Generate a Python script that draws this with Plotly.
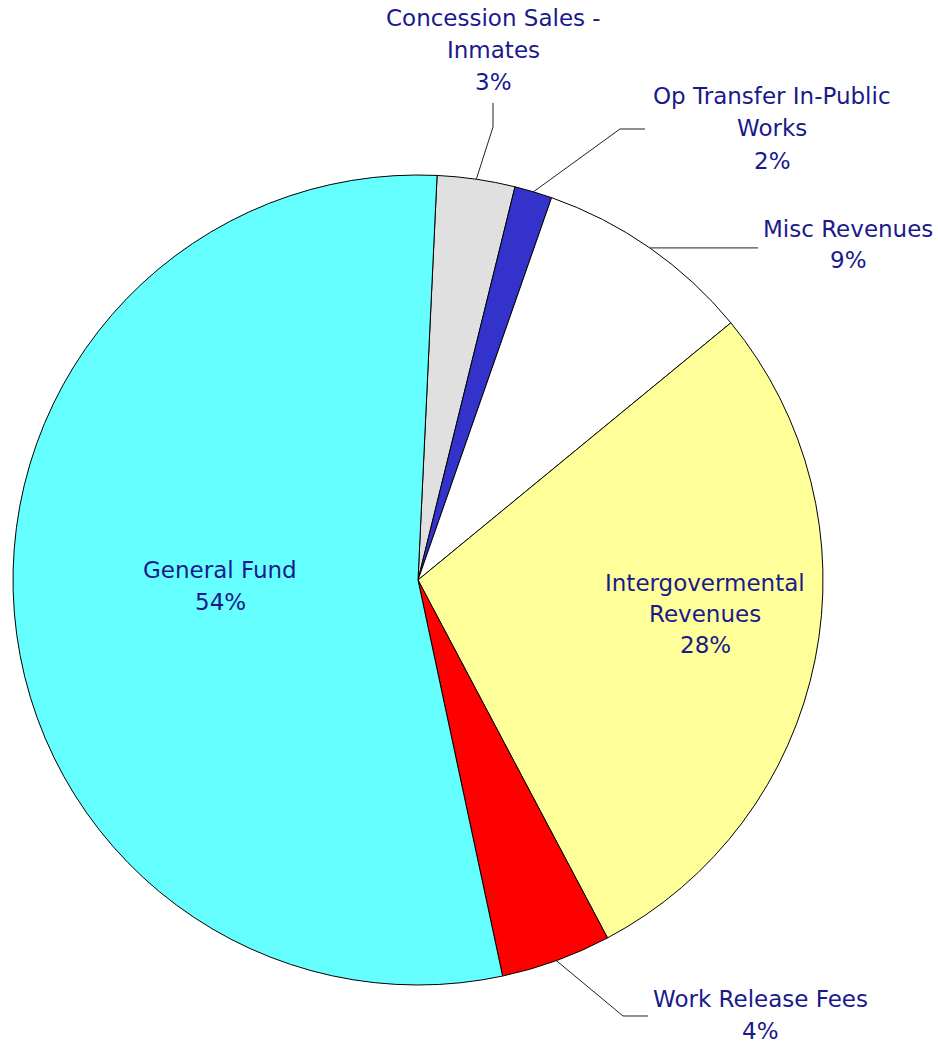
import math
import plotly.graph_objects as go

# ---------------- data ----------------
categories = [
    "Concession Sales - Inmates",
    "Op Transfer In-Public Works",
    "Misc Revenues",
    "Intergovermental Revenues",
    "Work Release Fees",
    "General Fund",
]
label_lines = [
    ["Concession Sales -", "Inmates"],
    ["Op Transfer In-Public", "Works"],
    ["Misc Revenues"],
    ["Intergovermental", "Revenues"],
    ["Work Release Fees"],
    ["General Fund"],
]
values = [3.1, 1.5, 8.7, 28.2, 4.4, 54.1]

# ---------------- styles / layout ----------------
colors = ["#E0E0E0", "#3333CC", "#FFFFFF", "#FFFF99", "#FF0000", "#66FFFF"]
TEXT_COLOR = "#1a1a8c"
FONT = "DejaVu Sans"
FS = 23

W, H = 938, 1044
CX, CY, R = 418, 580, 405
ROT = 2.7

# label block placement (pixels): center x, first-line y, line spacing, leader elbow/end
label_pos = [
    dict(x=494, y=18, dy=32, elbow=(493, 127), end=(493, 103)),
    dict(x=772, y=96.5, dy=32, elbow=(620, 129), end=(645, 129)),
    dict(x=848, y=228.5, dy=32, elbow=None, end=(758, None)),
    dict(x=705, y=583, dy=31, elbow=None, end=None),
    dict(x=760, y=998.5, dy=32, elbow=(623, 1016), end=(648, 1016)),
    dict(x=220, y=569.5, dy=32, elbow=None, end=None),
]


def px(x):
    return x / W


def py(y):
    return 1 - y / H


fig = go.Figure(
    go.Pie(
        labels=categories,
        values=values,
        sort=False,
        direction="clockwise",
        rotation=ROT,
        marker=dict(colors=colors, line=dict(color="#000000", width=1)),
        textinfo="none",
        hoverinfo="label+percent",
        domain=dict(x=[(CX - R) / W, (CX + R) / W], y=[1 - (CY + R) / H, 1 - (CY - R) / H]),
        showlegend=False,
    )
)

total = sum(values)
annotations = []
shapes = []
cum = 0.0
for name_lines, v, pos in zip(label_lines, values, label_pos):
    pct = v / total * 100
    lines = name_lines + [f"{round(pct):d}%"]
    for i, t in enumerate(lines):
        annotations.append(
            dict(
                x=px(pos["x"]), y=py(pos["y"] + i * pos["dy"]),
                xref="paper", yref="paper",
                text=t, showarrow=False,
                xanchor="center", yanchor="middle",
                font=dict(family=FONT, size=FS, color=TEXT_COLOR),
            )
        )
    mid = math.radians(ROT + (cum + v / 2) / total * 360)
    cum += v
    if pos["end"] is None:
        continue
    sx = CX + R * math.sin(mid)
    sy = CY - R * math.cos(mid)
    pts = [(sx, sy)]
    if pos["elbow"] is not None:
        pts.append(pos["elbow"])
    ex, ey = pos["end"]
    if ey is None:
        ey = sy
    pts.append((ex, ey))
    path = "M " + " L ".join(f"{px(a):.5f},{py(b):.5f}" for a, b in pts)
    shapes.append(
        dict(type="path", path=path, xref="paper", yref="paper",
             line=dict(color="#222222", width=1))
    )

fig.update_layout(
    width=W, height=H,
    margin=dict(l=0, r=0, t=0, b=0),
    paper_bgcolor="white", plot_bgcolor="white",
    annotations=annotations,
    shapes=shapes,
)

fig.write_html(
    "out.html",
    config={"displayModeBar": False},
    post_script="document.body.style.margin='0';document.body.style.overflow='hidden';",
)
